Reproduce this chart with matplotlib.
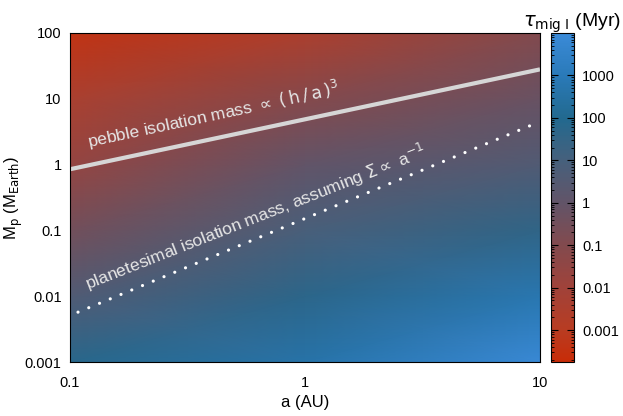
import numpy as np
import matplotlib
matplotlib.use("Agg")
import matplotlib.pyplot as plt
from matplotlib.colors import LinearSegmentedColormap, LogNorm

plt.rcParams['font.family'] = ['Liberation Sans', 'DejaVu Sans']

# grid nodes (decades of a and M_p)
a_nodes = [0.1, 1, 10]
mp_nodes = [0.001, 0.01, 0.1, 1, 10, 100]
# log10 of tau_mig,I in Myr at each node, rows = mp_nodes, cols = a_nodes
log_tau = [
    [1.8, 2.6, 3.9],
    [0.6, 1.7, 2.8],
    [-0.5, 0.9, 1.6],
    [-1.6, 0.0, 0.6],
    [-2.4, -1.1, -0.2],
    [-3.4, -2.5, -1.0],
]

# isolation masses
pebble_a = [0.1, 10]
pebble_mp = [0.85, 28]
planetesimal_a = [0.1, 10]
planetesimal_mp = [0.0051, 4.5]

cbar_ticks = [0.001, 0.01, 0.1, 1, 10, 100, 1000]
cbar_labels = ['0.001', '0.01', '0.1', '1', '10', '100', '1000']

# colormap estimated from the colorbar (positions in log space -3.75..4)
lo, hi = -3.75, 4.0
def pos(v):
    return (v - lo) / (hi - lo)

cmap = LinearSegmentedColormap.from_list('mig', [
    (0.0, '#c82c08'),
    (pos(-3), '#b83c22'),
    (pos(-2), '#a0423a'),
    (pos(-1), '#824a4e'),
    (pos(0), '#625468'),
    (pos(1), '#46607c'),
    (pos(2), '#22698f'),
    (pos(3), '#2a7ab8'),
    (1.0, '#3a8ad8'),
])
norm = LogNorm(vmin=10**lo, vmax=10**hi)

fig = plt.figure(figsize=(6.23, 4.16), dpi=100)
ax = fig.add_axes([0.1124, 0.1298, 0.7544, 0.7909])
cax = fig.add_axes([0.8844, 0.1298, 0.0369, 0.7909])

A, M = np.meshgrid(a_nodes, mp_nodes)
tau = 10.0 ** np.array(log_tau)
mesh = ax.pcolormesh(A, M, tau, shading='gouraud', cmap=cmap, norm=norm)

ax.plot(pebble_a, pebble_mp, color='#d6d6d6', lw=3, solid_capstyle='butt')
ax.plot(planetesimal_a, planetesimal_mp, color='white', lw=2.3,
        linestyle=(0.94, (0.01, 3.63)), dash_capstyle='round')

ax.set_xscale('log')
ax.set_yscale('log')
ax.set_xlim(0.1, 10)
ax.set_ylim(0.001, 100)
ax.set_xticks([0.1, 1, 10])
ax.set_xticklabels(['0.1', '1', '10'])
ax.set_yticks([0.001, 0.01, 0.1, 1, 10, 100])
ax.set_yticklabels(['0.001', '0.01', '0.1', '1', '10', '100'])
ax.minorticks_off()
ax.tick_params(length=0, labelsize=10.5)
ax.tick_params(axis='x', pad=10)
ax.tick_params(axis='y', pad=6)
ax.set_xlabel('a (AU)', fontsize=12, labelpad=4)
ax.set_ylabel(r'M$_\mathrm{p}$ (M$_\mathrm{Earth}$)', fontsize=12)
ax.yaxis.set_label_coords(-0.096, 0.5)

ax.text(0.122, 1.5, r'pebble isolation mass $\propto$ $\mathrm{(\,h\,/\,a\,)}^3$',
        rotation=12, fontsize=12.5, color='#e6e6e6', ha='left', va='bottom',
        rotation_mode='anchor')
ax.text(0.122, 0.0105, r'planetesimal isolation mass, assuming $\Sigma\propto$ a$^{-1}$',
        rotation=21.5, fontsize=12.5, color='#e6e6e6', ha='left', va='bottom',
        rotation_mode='anchor')

cb = fig.colorbar(mesh, cax=cax)
cb.set_ticks(cbar_ticks)
cb.set_ticklabels(cbar_labels)
cb.ax.tick_params(which='both', direction='in', left=True, right=True,
                  labelsize=10.5, pad=6, color='black')
cb.ax.tick_params(which='major', length=5)
cb.ax.tick_params(which='minor', length=2.5)
fig.text(0.918, 0.945, r'$\tau_\mathrm{mig\ I}$ (Myr)', fontsize=14,
         ha='center', va='center')

fig.savefig('out.png', dpi=100)
